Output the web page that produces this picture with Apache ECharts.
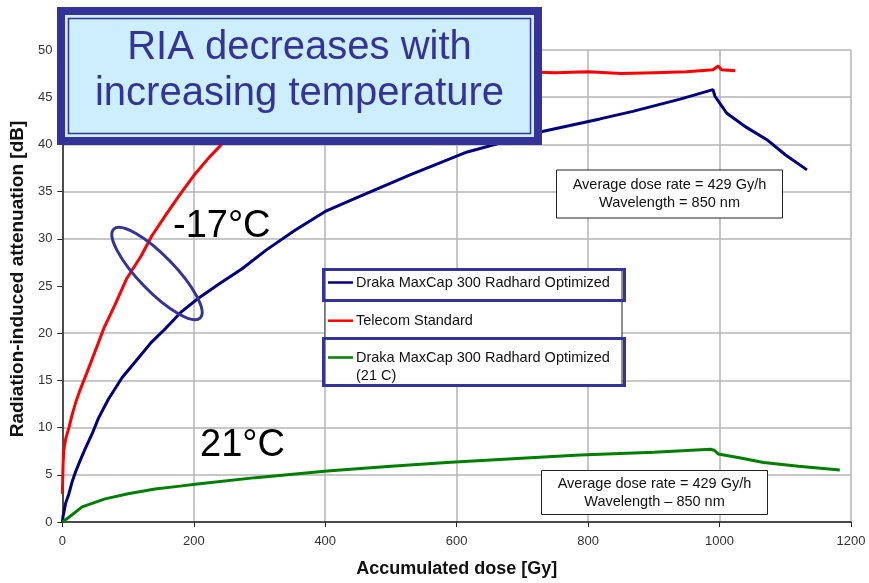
<!DOCTYPE html>
<html>
<head>
<meta charset="utf-8">
<script src="https://cdn.jsdelivr.net/npm/echarts@6/dist/echarts.min.js"></script>
<style>
  html, body { margin: 0; padding: 0; background: #fff; }
  #chart { width: 869px; height: 583px; }
</style>
</head>
<body>
<div id="chart"></div>
<script>
// dose [Gy] vs RIA [dB]
const draka17 = [
  [0, 0], [1, 0.6], [2, 0.9], [5, 2], [10, 3], [15, 4.3], [20, 5.3], [27, 6.5], [35, 7.8],
  [45, 9.3], [55, 11], [70, 13], [91, 15.3], [116, 17.4], [135, 19], [157, 20.5], [180, 22.2],
  [207, 23.7], [240, 25.3], [273, 26.8], [310, 28.8], [354, 30.9], [400, 32.9], [449, 34.4],
  [530, 36.8], [616, 39.2], [680, 40.4], [732, 41.4], [818, 42.7], [868, 43.5], [940, 44.8],
  [990, 45.8], [993, 45.1], [1000, 44.4], [1011, 43.3], [1041, 41.8], [1072, 40.5],
  [1100, 38.9], [1133, 37.3]
]
const telecom = [
  [0, 3], [1, 6], [2, 7.5], [5, 8.8], [10, 10], [15, 11.4], [20, 12.6], [27, 14.0], [35, 15.4],
  [45, 17.2], [63, 20.5], [80, 23], [98, 25.8], [120, 28.2], [136, 30.3], [160, 32.8],
  [182, 35], [200, 36.7], [223, 38.6], [245, 40.2], [270, 41.8], [300, 43.2], [350, 45],
  [400, 46.1], [450, 46.8], [500, 47.2], [600, 47.6], [700, 47.7], [750, 47.6], [800, 47.7],
  [850, 47.5], [900, 47.6], [950, 47.7], [990, 47.9], [998, 48.3], [1003, 47.9], [1024, 47.8]
]
const draka21 = [
  [0, 0], [10, 0.5], [30, 1.6], [65, 2.45], [100, 3.0], [141, 3.5], [179, 3.8], [202, 4.0],
  [294, 4.7], [403, 5.4], [500, 5.9], [585, 6.3], [712, 6.8], [788, 7.1], [900, 7.4],
  [986, 7.7], [992, 7.6], [998, 7.2], [1030, 6.8], [1067, 6.3], [1120, 5.9], [1183, 5.5]
]
const seriesNames = ['Draka MaxCap 300 Radhard Optimized', 'Telecom Standard', 'Draka MaxCap 300 Radhard Optimized\n(21 C)']
const seriesColors = ['#000080', '#ff0000', '#008000']
const noteText = ['Average dose rate = 429 Gy/h\nWavelength = 850 nm', 'Average dose rate = 429 Gy/h\nWavelength \u2013 850 nm']

const FONT = '"Liberation Sans", Arial, sans-serif'
const BOX_BLUE = '#333399'

const chart = echarts.init(document.getElementById('chart'))

// gridline at 25 dB is missing in the source
const hGridColors = ['#b4b4b4', '#b4b4b4', '#b4b4b4', '#b4b4b4', '#b4b4b4', 'rgba(0,0,0,0)', '#b4b4b4', '#b4b4b4', '#b4b4b4', '#b4b4b4', '#b4b4b4']

const legendRows = [282.5, 320.7, 357.5]
const legendGraphic = [
  { type: 'rect', shape: { x: 325, y: 270, width: 297, height: 115 }, style: { fill: '#fff', stroke: '#222', lineWidth: 1 }, z: 50 },
  ...seriesNames.map((name, i) => ({
    type: 'line', shape: { x1: 328, y1: legendRows[i], x2: 353, y2: legendRows[i] },
    style: { stroke: seriesColors[i], lineWidth: 2.5 }, z: 51
  })),
  ...seriesNames.map((name, i) => ({
    type: 'text', x: 356, y: legendRows[i] - 9.2,
    style: { text: name, font: '14.5px ' + FONT, fill: '#111', lineHeight: 18.4, verticalAlign: 'top' }, z: 51
  })),
  { type: 'rect', shape: { x: 323.5, y: 269.5, width: 301, height: 31 }, style: { fill: 'none', stroke: BOX_BLUE, lineWidth: 3 }, z: 52 },
  { type: 'rect', shape: { x: 323.5, y: 338.5, width: 301, height: 47 }, style: { fill: 'none', stroke: BOX_BLUE, lineWidth: 3 }, z: 52 }
]

const noteBox = (x, y, w, h, text) => ([
  { type: 'rect', shape: { x, y, width: w, height: h }, style: { fill: '#fff', stroke: '#222', lineWidth: 1 }, z: 50 },
  { type: 'text', x: x + w / 2, y: y + h / 2, style: { text, font: '14.5px ' + FONT, fill: '#111', align: 'center', verticalAlign: 'middle', lineHeight: 18 }, z: 51 }
])

chart.setOption({
  animation: false,
  grid: { left: 62, right: 18, top: 50, bottom: 58 },
  xAxis: {
    type: 'value', min: 0, max: 1200, interval: 200,
    name: 'Accumulated dose [Gy]', nameLocation: 'middle', nameGap: 38,
    nameTextStyle: { fontFamily: FONT, fontSize: 18, fontWeight: 'bold', color: '#111' },
    axisLine: { lineStyle: { color: '#222', width: 1.5 } },
    axisTick: { show: true, length: 5, lineStyle: { color: '#222' } },
    axisLabel: { fontFamily: FONT, fontSize: 13, color: '#333', margin: 13, formatter: v => String(v) },
    splitLine: { show: true, lineStyle: { color: '#b4b4b4', width: 1.5 } }
  },
  yAxis: {
    type: 'value', min: 0, max: 50, interval: 5,
    name: 'Radiation-induced attenuation [dB]', nameLocation: 'middle', nameGap: 33,
    nameTextStyle: { fontFamily: FONT, fontSize: 19, fontWeight: 'bold', color: '#111', padding: [0, 0, 0, 14] },
    axisLine: { show: true, lineStyle: { color: '#222', width: 1.5 } },
    axisTick: { show: true, length: 5, lineStyle: { color: '#222' } },
    axisLabel: { fontFamily: FONT, fontSize: 13, color: '#333', margin: 10 },
    splitLine: { show: true, lineStyle: { color: hGridColors, width: 1.5 } }
  },
  series: [draka17, telecom, draka21].map((data, i) => ({
    type: 'line',
    name: seriesNames[i],
    data,
    showSymbol: false,
    color: seriesColors[i],
    lineStyle: { width: 3, color: seriesColors[i] },
    z: 3
  })),
  graphic: [
    // title callout
    { type: 'rect', shape: { x: 57, y: 7, width: 485, height: 138 }, style: { fill: BOX_BLUE }, z: 60 },
    { type: 'rect', shape: { x: 65, y: 15, width: 469, height: 122 }, style: { fill: '#cdeefd' }, z: 61 },
    { type: 'rect', shape: { x: 68.5, y: 18.5, width: 462, height: 115 }, style: { fill: 'none', stroke: BOX_BLUE, lineWidth: 1.5 }, z: 62 },
    { type: 'text', x: 299.5, y: 48, style: { text: 'RIA decreases with', font: '40px ' + FONT, fill: BOX_BLUE, align: 'center', verticalAlign: 'middle' }, z: 63 },
    { type: 'text', x: 299.5, y: 94, style: { text: 'increasing temperature', font: '40px ' + FONT, fill: BOX_BLUE, align: 'center', verticalAlign: 'middle' }, z: 63 },
    // temperature labels
    { type: 'text', x: 173, y: 227, style: { text: '-17\u00b0C', font: '38px ' + FONT, fill: '#000', verticalAlign: 'middle' }, z: 40 },
    { type: 'text', x: 200, y: 446, style: { text: '21\u00b0C', font: '38px ' + FONT, fill: '#000', verticalAlign: 'middle' }, z: 40 },
    { type: 'ellipse', x: 157, y: 273.5, rotation: -0.8, shape: { cx: 0, cy: 0, rx: 62, ry: 18 }, style: { fill: 'none', stroke: BOX_BLUE, lineWidth: 3 }, z: 40 },
    ...legendGraphic,
    ...noteBox(556.5, 170, 226, 48, noteText[0]),
    ...noteBox(541.5, 470.5, 226, 44, noteText[1])
  ]
})
</script>
</body>
</html>
